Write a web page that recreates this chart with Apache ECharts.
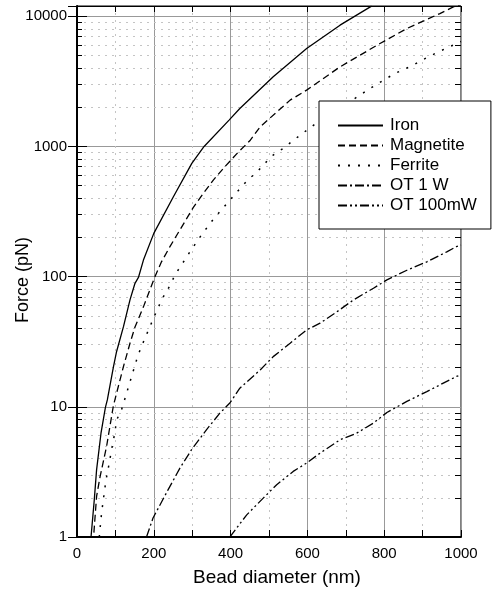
<!DOCTYPE html>
<html>
<head>
<meta charset="utf-8">
<script src="https://cdn.jsdelivr.net/npm/echarts@6/dist/echarts.min.js"></script>
<style>
  html, body { margin: 0; padding: 0; background: #fff; }
  #chart { width: 492px; height: 591px; }
</style>
</head>
<body>
<div id="chart"></div>
<script>
// values: bead diameter (nm) -> force (pN)
var seriesNames = ['Iron', 'Magnetite', 'Ferrite', 'OT 1 W', 'OT 100mW'];

var ironD = [36.5, 45, 51, 62.5, 74, 79, 95, 103, 121, 138, 151, 160, 173, 200, 251, 299, 331, 396, 424, 511, 598, 685, 767];
var ironF = [1, 1.93, 3.28, 6.27, 9.9, 11.3, 20.4, 26.5, 41.3, 66.3, 88.9, 98.6, 134, 215, 411, 741, 1000, 1594, 1960, 3430, 5660, 8550, 11970];

var magnetiteD = [44, 51, 60, 77, 94.5, 103, 121, 138, 151, 173, 203, 220, 242, 281, 303, 329, 355, 385, 417, 450, 477, 555, 598, 685, 789, 859, 945, 980, 1000];
var magnetiteF = [1.08, 2.05, 2.9, 4.96, 10.1, 12.7, 20.4, 30.8, 41, 58.6, 100, 130, 170, 265, 341, 436, 552, 699, 885, 1106, 1416, 2270, 2710, 4090, 6180, 8060, 10500, 11800, 12300];

var ferriteD = [58, 64, 75.5, 80, 90, 99, 103, 116, 129, 159, 177, 203, 222, 233, 245, 255, 281, 294, 324, 355, 372, 407, 446, 468, 489, 511, 537, 559, 581, 628, 737, 763, 784, 828, 876, 898, 941, 1000];
var ferriteF = [1, 1.53, 2.75, 3.19, 4.67, 6.45, 7.9, 9.5, 12.7, 25, 33.7, 50.8, 68, 76.5, 89, 103, 135, 155, 209, 276, 315, 416, 559, 632, 741, 860, 967, 1087, 1222, 1548, 2480, 2790, 3050, 3640, 4220, 4600, 5330, 6400];

var ot1wD = [181, 198, 237, 268, 298, 337, 372, 398, 424, 477, 511, 555, 598, 633, 676, 720, 772, 807, 859, 911, 963, 988, 1000];
var ot1wF = [1, 1.4, 2.3, 3.38, 4.67, 6.66, 8.94, 10.7, 13.9, 19.2, 24.3, 30.8, 39, 43.9, 53.5, 66.3, 81.5, 94.4, 112, 130, 155, 170, 175];

var ot100D = [398, 442, 485, 520, 563, 598, 633, 685, 728, 772, 807, 859, 911, 988, 1000];
var ot100F = [1, 1.48, 1.99, 2.52, 3.19, 3.7, 4.41, 5.58, 6.27, 7.5, 9.05, 11, 13.1, 17.1, 17.6];

var yTicks = [1, 10, 100, 1000, 10000];
var minorSteps = [2, 3, 4, 5, 6, 7, 8, 9];

var font = 'Liberation Sans, Arial, sans-serif';

// minor log values 2..9 in every decade
var minorY = [];
for (var k = 0; k < yTicks.length - 1; k++) {
  minorSteps.forEach(function (m) { minorY.push(m * yTicks[k]); });
}

var xMax = 1000, plotW = 384;
var leftTick = 5 * xMax / plotW, rightTick = 6 * xMax / plotW;

function pairs(d, f) {
  return d.map(function (v, i) { return [v, f[i]]; });
}

function makeSeries(name, d, f, dash, w) {
  return {
    name: name,
    type: 'line',
    data: pairs(d, f),
    symbol: 'none',
    smooth: false,
    clip: true,
    silent: true,
    z: 3,
    itemStyle: { color: '#000' },
    lineStyle: { color: '#000', width: w || 1.3, type: dash }
  };
}

// minor grid + minor ticks of the log axis
var gridLines = minorY.map(function (v) {
  return { yAxis: v };
});
var tickLines = [];
minorY.forEach(function (v) {
  tickLines.push([{ coord: [0, v] }, { coord: [leftTick, v] }]);
  tickLines.push([{ coord: [xMax - rightTick, v] }, { coord: [xMax, v] }]);
});

var chart = echarts.init(document.getElementById('chart'));

var option = {
  animation: false,
  grid: {
    left: 77, right: 31, top: 6, bottom: 54,
    containLabel: false, outerBoundsMode: 'none',
    show: true, borderColor: '#000', borderWidth: 1, backgroundColor: 'transparent'
  },
  legend: {
    orient: 'vertical',
    left: 319,
    top: 101,
    z: 20,
    data: seriesNames,
    itemWidth: 45,
    itemHeight: 14,
    itemGap: 3,
    padding: [16, 14, 15, 18],
    backgroundColor: '#fff',
    borderColor: '#000',
    borderWidth: 1,
    itemStyle: { opacity: 0 },
    textStyle: { color: '#000', fontSize: 17, fontFamily: font, padding: [0, 0, 0, 2] }
  },
  xAxis: [
    {
      type: 'value', min: 0, max: xMax, interval: 200, position: 'bottom',
      name: 'Bead diameter (nm)', nameLocation: 'middle', nameGap: 31,
      nameTextStyle: { color: '#000', fontSize: 19, fontFamily: font, padding: [0, 0, 0, 16] },
      axisLine: { lineStyle: { color: '#000', width: 2 } },
      axisTick: { inside: true, length: 7, lineStyle: { color: '#000' } },
      minorTick: { show: true, splitNumber: 2, length: 7, lineStyle: { color: '#000' } },
      axisLabel: { color: '#000', fontSize: 15, fontFamily: font, margin: 9,
        formatter: function (v) { return String(v); } },
      splitLine: { show: true, lineStyle: { color: '#999', width: 1 } },
      minorSplitLine: { show: true, lineStyle: { color: '#c4c4c4', width: 1, type: [2, 5] } }
    },
    {
      type: 'value', min: 0, max: xMax, interval: 100, position: 'top',
      axisLine: { lineStyle: { color: '#000', width: 1 } },
      axisTick: { inside: true, length: 6, lineStyle: { color: '#000' } },
      axisLabel: { show: false },
      splitLine: { show: false }
    }
  ],
  yAxis: [
    {
      type: 'log', logBase: 10, min: 1, max: 12000, position: 'left',
      name: 'Force (pN)', nameLocation: 'middle', nameGap: 45, nameRotate: 90,
      nameMoveOverlap: false,
      nameTextStyle: { color: '#000', fontSize: 18, fontFamily: font, padding: [0, 17, 0, 0] },
      axisLine: { show: true, lineStyle: { color: '#000', width: 2 } },
      axisTick: { show: true, inside: true, length: 10, lineStyle: { color: '#000' } },
      axisLabel: {
        color: '#000', fontSize: 15, fontFamily: font, margin: 10,
        formatter: function (v) {
          for (var i = 0; i < yTicks.length; i++) {
            if (Math.abs(v - yTicks[i]) < 1e-6 * yTicks[i]) return String(yTicks[i]);
          }
          return '';
        }
      },
      splitLine: { show: true, lineStyle: { color: '#999', width: 1 } }
    },
    {
      type: 'log', logBase: 10, min: 1, max: 12000, position: 'right',
      axisLine: { show: true, lineStyle: { color: '#000', width: 1 } },
      axisTick: { show: true, inside: true, length: 9, lineStyle: { color: '#000' } },
      axisLabel: { show: false },
      splitLine: { show: false }
    }
  ],
  series: [
    {
      name: 'minor', type: 'line', data: [], z: 1, silent: true,
      markLine: {
        z: 1, silent: true, symbol: ['none', 'none'], label: { show: false },
        lineStyle: { color: '#c4c4c4', width: 1, type: [2, 5] },
        data: gridLines
      }
    },
    {
      name: 'minorTicks', type: 'line', data: [], z: 4, silent: true,
      markLine: {
        z: 4, silent: true, symbol: ['none', 'none'], label: { show: false },
        lineStyle: { color: '#000', width: 1, type: 'solid' },
        data: tickLines
      }
    },
    makeSeries(seriesNames[0], ironD, ironF, 'solid'),
    makeSeries(seriesNames[1], magnetiteD, magnetiteF, [7, 4]),
    makeSeries(seriesNames[2], ferriteD, ferriteF, [2, 8], 1.5),
    makeSeries(seriesNames[3], ot1wD, ot1wF, [9, 3, 2, 3]),
    makeSeries(seriesNames[4], ot100D, ot100F, [9, 3, 2, 3, 2, 3])
  ]
};

chart.setOption(option);
</script>
</body>
</html>
